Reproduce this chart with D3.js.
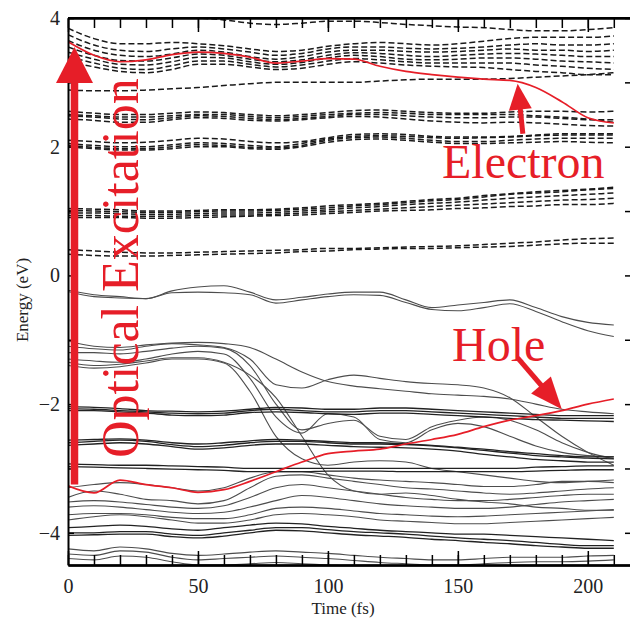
<!DOCTYPE html>
<html>
<head>
<meta charset="utf-8">
<script src="https://cdn.jsdelivr.net/npm/d3@7/dist/d3.min.js"></script>
<style>
body { margin: 0; background: #fff; }
text { font-family: "Liberation Serif", "Times New Roman", serif; }
</style>
</head>
<body>
<div id="container"></div>
<script>
// time samples (fs)
var times = [0,10,20,30,40,50,60,70,80,90,100,110,120,130,140,150,160,170,180,190,200,210];

// unoccupied levels (dashed), eV
var cbTop = [
	[3.84,3.68,3.6,3.6,3.62,3.6,3.57,3.52,3.48,3.5,3.56,3.6,3.62,3.6,3.58,3.6,3.64,3.68,3.7,3.7,3.7,3.72],
	[3.74,3.58,3.5,3.48,3.52,3.55,3.52,3.47,3.42,3.45,3.52,3.55,3.55,3.53,3.52,3.53,3.55,3.58,3.6,3.58,3.58,3.6],
	[3.65,3.5,3.42,3.4,3.44,3.5,3.47,3.4,3.36,3.4,3.47,3.5,3.5,3.48,3.47,3.48,3.5,3.52,3.5,3.5,3.48,3.5],
	[3.55,3.42,3.34,3.33,3.38,3.44,3.42,3.36,3.32,3.35,3.42,3.46,3.45,3.42,3.4,3.42,3.44,3.45,3.44,3.42,3.4,3.4],
	[3.47,3.36,3.28,3.27,3.32,3.39,3.38,3.32,3.28,3.31,3.38,3.42,3.4,3.36,3.35,3.36,3.38,3.38,3.36,3.33,3.32,3.3],
	[3.4,3.3,3.22,3.2,3.26,3.33,3.33,3.28,3.24,3.27,3.33,3.37,3.35,3.32,3.3,3.3,3.3,3.3,3.27,3.25,3.22,3.2],
	[3.33,3.24,3.17,3.15,3.2,3.28,3.28,3.24,3.2,3.22,3.28,3.32,3.3,3.27,3.25,3.24,3.23,3.2,3.17,3.15,3.12,3.12],
	[4.2,4.15,4.1,4.05,4.02,4.0,3.97,3.92,3.9,3.92,3.95,3.95,3.93,3.9,3.88,3.86,3.85,3.82,3.8,3.8,3.82,3.85],
	[2.88,2.87,2.87,2.88,2.9,2.92,2.95,2.98,3.0,3.0,3.0,3.0,3.02,3.04,3.05,3.05,3.05,3.06,3.08,3.1,3.12,3.15]
];
var cbMid = [
	[2.55,2.52,2.5,2.5,2.52,2.54,2.53,2.5,2.48,2.5,2.53,2.56,2.57,2.55,2.53,2.52,2.52,2.54,2.55,2.55,2.54,2.55],
	[2.48,2.46,2.43,2.42,2.45,2.48,2.47,2.44,2.42,2.44,2.47,2.5,2.5,2.48,2.46,2.45,2.45,2.46,2.46,2.44,2.42,2.42],
	[2.43,2.41,2.38,2.38,2.42,2.45,2.44,2.41,2.4,2.42,2.45,2.47,2.46,2.43,2.4,2.38,2.37,2.38,2.37,2.35,2.33,2.32],
	[2.5,2.48,2.46,2.46,2.48,2.5,2.5,2.47,2.45,2.47,2.5,2.52,2.53,2.52,2.5,2.5,2.5,2.5,2.48,2.46,2.43,2.38],
	[2.05,2.02,2.0,2.0,2.03,2.06,2.05,2.02,2.0,2.05,2.12,2.16,2.17,2.16,2.14,2.13,2.14,2.15,2.17,2.18,2.18,2.18],
	[2.02,1.99,1.97,1.97,2.0,2.03,2.02,1.99,1.98,2.02,2.1,2.14,2.15,2.13,2.1,2.08,2.08,2.1,2.12,2.13,2.13,2.13],
	[2.1,2.08,2.06,2.07,2.1,2.13,2.12,2.08,2.06,2.08,2.14,2.19,2.2,2.19,2.16,2.15,2.15,2.16,2.18,2.2,2.2,2.2],
	[2.0,1.97,1.95,1.95,1.97,2.0,2.0,1.97,1.96,2.0,2.07,2.11,2.12,2.1,2.07,2.05,2.05,2.06,2.07,2.08,2.07,2.06]
];
var cbLow = [
	[1.01,1.0,0.99,0.98,0.98,0.99,1.0,1.0,1.01,1.03,1.05,1.08,1.1,1.13,1.16,1.18,1.22,1.26,1.28,1.3,1.33,1.35],
	[0.97,0.97,0.96,0.95,0.95,0.96,0.97,0.97,0.98,1.0,1.02,1.05,1.07,1.1,1.12,1.14,1.17,1.2,1.22,1.24,1.26,1.28],
	[0.93,0.93,0.92,0.92,0.92,0.93,0.94,0.94,0.95,0.97,0.99,1.01,1.03,1.05,1.07,1.09,1.11,1.13,1.15,1.17,1.18,1.2],
	[0.9,0.9,0.9,0.89,0.89,0.9,0.91,0.92,0.93,0.94,0.96,0.98,1.0,1.01,1.02,1.04,1.05,1.07,1.08,1.1,1.1,1.12],
	[1.04,1.03,1.02,1.0,1.0,1.01,1.02,1.02,1.03,1.05,1.08,1.1,1.12,1.15,1.18,1.2,1.24,1.27,1.3,1.32,1.34,1.37],
	[0.4,0.38,0.36,0.35,0.35,0.36,0.37,0.38,0.39,0.4,0.42,0.42,0.43,0.44,0.45,0.46,0.48,0.5,0.52,0.55,0.57,0.58],
	[0.33,0.31,0.3,0.3,0.31,0.32,0.33,0.34,0.35,0.37,0.38,0.4,0.41,0.42,0.42,0.43,0.44,0.45,0.47,0.49,0.5,0.5]
];

// occupied levels (solid, thin grey), eV
var vbThin = [
	[-0.23,-0.3,-0.33,-0.36,-0.24,-0.18,-0.16,-0.26,-0.38,-0.34,-0.29,-0.26,-0.26,-0.38,-0.5,-0.46,-0.42,-0.38,-0.5,-0.64,-0.73,-0.77],
	[-0.25,-0.33,-0.35,-0.36,-0.27,-0.26,-0.27,-0.3,-0.43,-0.38,-0.33,-0.3,-0.31,-0.42,-0.53,-0.55,-0.5,-0.44,-0.56,-0.72,-0.86,-0.95],
	[-1.02,-1.1,-1.12,-1.08,-1.05,-1.04,-1.06,-1.12,-1.3,-1.5,-1.65,-1.72,-1.76,-1.8,-1.84,-1.86,-1.88,-1.92,-2.0,-2.08,-2.12,-2.15],
	[-1.1,-1.14,-1.16,-1.1,-1.06,-1.08,-1.12,-1.3,-1.7,-1.75,-1.62,-1.55,-1.6,-1.65,-1.68,-1.7,-1.75,-1.9,-2.2,-2.5,-2.75,-2.95],
	[-1.2,-1.2,-1.22,-1.18,-1.13,-1.1,-1.13,-1.4,-2.0,-2.4,-2.3,-2.25,-2.5,-2.55,-2.35,-2.25,-2.2,-2.25,-2.4,-2.6,-2.75,-2.85],
	[-1.3,-1.33,-1.35,-1.3,-1.22,-1.18,-1.22,-1.6,-2.2,-2.45,-2.15,-2.2,-2.55,-2.6,-2.4,-2.3,-2.35,-2.5,-2.65,-2.75,-2.8,-2.82],
	[-1.35,-1.4,-1.38,-1.33,-1.28,-1.28,-1.35,-1.55,-1.9,-2.5,-3.1,-3.35,-3.4,-3.38,-3.42,-3.48,-3.52,-3.55,-3.6,-3.62,-3.65,-3.65],
	[-1.4,-1.44,-1.42,-1.36,-1.3,-1.3,-1.36,-1.8,-2.5,-2.85,-2.95,-2.9,-2.88,-2.9,-3.0,-3.05,-3.1,-3.15,-3.2,-3.22,-3.2,-3.18],
	[-3.3,-3.25,-3.22,-3.25,-3.3,-3.35,-3.3,-3.15,-3.05,-3.05,-3.1,-3.15,-3.18,-3.2,-3.22,-3.25,-3.28,-3.28,-3.25,-3.2,-3.2,-3.22],
	[-3.45,-3.35,-3.4,-3.48,-3.5,-3.55,-3.5,-3.3,-3.12,-3.1,-3.15,-3.2,-3.25,-3.3,-3.32,-3.35,-3.38,-3.4,-3.38,-3.35,-3.32,-3.3],
	[-3.52,-3.5,-3.52,-3.56,-3.6,-3.62,-3.58,-3.45,-3.3,-3.25,-3.3,-3.35,-3.4,-3.45,-3.48,-3.5,-3.5,-3.48,-3.45,-3.42,-3.4,-3.4],
	[-3.6,-3.58,-3.6,-3.64,-3.68,-3.7,-3.68,-3.6,-3.5,-3.42,-3.45,-3.5,-3.55,-3.58,-3.6,-3.62,-3.62,-3.6,-3.56,-3.52,-3.5,-3.48],
	[-3.72,-3.7,-3.7,-3.72,-3.76,-3.78,-3.78,-3.72,-3.62,-3.6,-3.62,-3.66,-3.7,-3.72,-3.74,-3.75,-3.74,-3.72,-3.7,-3.68,-3.66,-3.64],
	[-3.8,-3.75,-3.72,-3.75,-3.8,-3.85,-3.85,-3.8,-3.72,-3.7,-3.72,-3.75,-3.8,-3.82,-3.84,-3.86,-3.86,-3.84,-3.82,-3.8,-3.78,-3.76],
	[-4.25,-4.28,-4.22,-4.25,-4.32,-4.35,-4.33,-4.3,-4.28,-4.3,-4.32,-4.35,-4.38,-4.4,-4.42,-4.42,-4.4,-4.38,-4.38,-4.38,-4.36,-4.35],
	[-4.33,-4.35,-4.28,-4.3,-4.38,-4.42,-4.4,-4.38,-4.36,-4.38,-4.4,-4.43,-4.46,-4.48,-4.5,-4.5,-4.48,-4.46,-4.45,-4.45,-4.44,-4.42],
	[-4.4,-4.42,-4.36,-4.38,-4.45,-4.5,-4.5,-4.48,-4.46,-4.48,-4.5,-4.52,-4.55,-4.58,-4.6,-4.6,-4.58,-4.56,-4.55,-4.55,-4.54,-4.52]
];
// occupied levels drawn darker (bundled bands)
var vbBold = [
	[-2.07,-2.08,-2.1,-2.12,-2.14,-2.15,-2.14,-2.1,-2.08,-2.1,-2.12,-2.12,-2.1,-2.1,-2.12,-2.14,-2.16,-2.18,-2.2,-2.22,-2.22,-2.22],
	[-2.1,-2.1,-2.12,-2.14,-2.17,-2.18,-2.17,-2.13,-2.12,-2.13,-2.15,-2.16,-2.14,-2.14,-2.16,-2.18,-2.2,-2.22,-2.24,-2.25,-2.26,-2.27],
	[-2.04,-2.05,-2.07,-2.1,-2.11,-2.12,-2.11,-2.08,-2.05,-2.06,-2.08,-2.08,-2.06,-2.06,-2.08,-2.1,-2.12,-2.14,-2.16,-2.18,-2.18,-2.18],
	[-2.6,-2.58,-2.56,-2.58,-2.63,-2.66,-2.64,-2.6,-2.58,-2.58,-2.6,-2.62,-2.62,-2.63,-2.65,-2.68,-2.72,-2.76,-2.8,-2.82,-2.84,-2.85],
	[-2.64,-2.62,-2.6,-2.62,-2.66,-2.7,-2.68,-2.64,-2.62,-2.62,-2.64,-2.66,-2.67,-2.68,-2.7,-2.73,-2.78,-2.82,-2.86,-2.88,-2.9,-2.9],
	[-2.56,-2.55,-2.54,-2.56,-2.6,-2.62,-2.6,-2.57,-2.55,-2.56,-2.58,-2.6,-2.6,-2.62,-2.64,-2.67,-2.7,-2.74,-2.77,-2.8,-2.82,-2.82],
	[-2.93,-2.94,-2.95,-2.95,-2.96,-2.97,-2.98,-3.0,-3.0,-3.0,-3.0,-3.0,-3.0,-3.0,-3.0,-3.0,-3.0,-3.0,-2.98,-2.97,-2.96,-2.96],
	[-2.97,-2.98,-2.99,-3.0,-3.01,-3.02,-3.03,-3.05,-3.05,-3.05,-3.04,-3.04,-3.04,-3.05,-3.05,-3.05,-3.05,-3.05,-3.04,-3.03,-3.02,-3.02],
	[-4.0,-4.0,-3.98,-3.98,-4.02,-4.04,-4.0,-3.96,-3.92,-3.92,-3.95,-3.98,-4.0,-4.02,-4.05,-4.08,-4.1,-4.12,-4.15,-4.18,-4.2,-4.2],
	[-4.04,-4.03,-4.02,-4.02,-4.06,-4.08,-4.05,-4.0,-3.96,-3.97,-4.0,-4.03,-4.05,-4.07,-4.1,-4.12,-4.15,-4.17,-4.2,-4.22,-4.24,-4.24],
	[-3.92,-3.9,-3.88,-3.9,-3.94,-3.96,-3.92,-3.88,-3.85,-3.86,-3.9,-3.93,-3.96,-3.98,-4.0,-4.02,-4.02,-4.04,-4.06,-4.08,-4.1,-4.12]
];

// tracked electron and hole states (red)
var electron = [3.63,3.42,3.32,3.35,3.43,3.47,3.45,3.39,3.3,3.33,3.37,3.36,3.25,3.17,3.12,3.08,3.05,3.03,2.92,2.7,2.45,2.37];
var hole = [-3.27,-3.38,-3.18,-3.25,-3.3,-3.37,-3.33,-3.2,-3.05,-2.9,-2.77,-2.73,-2.7,-2.62,-2.55,-2.47,-2.35,-2.25,-2.18,-2.1,-2.0,-1.92];

var xTicks = [0,50,100,150,200];
var yTicks = [-4,-2,0,2,4];

var width = 630, height = 625;
var red = "#e61e28";

var x = d3.scaleLinear().domain([0, 217]).range([68, 632]);
var y = d3.scaleLinear().domain([-4.5, 4]).range([565, 18]);

var svg = d3.select("#container")
	.append("svg")
		.attr("width", width)
		.attr("height", height);

svg.append("clipPath").attr("id", "plot")
	.append("rect")
		.attr("x", 68).attr("y", 18)
		.attr("width", 564).attr("height", 547);

var line = d3.line()
	.x(function(d, i){ return x(times[i]); })
	.y(function(d){ return y(d); })
	.curve(d3.curveMonotoneX);

var g = svg.append("g").attr("clip-path", "url(#plot)");

g.selectAll(".cb")
	.data(cbTop.concat(cbMid, cbLow))
	.enter().append("path")
		.attr("class", "cb")
		.attr("d", line)
		.attr("fill", "none")
		.attr("stroke", "#1a1a1a")
		.attr("stroke-width", 1.5)
		.attr("stroke-dasharray", "6,3");

g.selectAll(".vbt")
	.data(vbThin)
	.enter().append("path")
		.attr("class", "vbt")
		.attr("d", line)
		.attr("fill", "none")
		.attr("stroke", "#4d4d4d")
		.attr("stroke-width", 1.1);

g.selectAll(".vbb")
	.data(vbBold)
	.enter().append("path")
		.attr("class", "vbb")
		.attr("d", line)
		.attr("fill", "none")
		.attr("stroke", "#222")
		.attr("stroke-width", 1.3);

g.selectAll(".carrier")
	.data([electron, hole])
	.enter().append("path")
		.attr("class", "carrier")
		.attr("d", line)
		.attr("fill", "none")
		.attr("stroke", red)
		.attr("stroke-width", 1.7);

// axes: ticks point inward
function minor(a){ return a.tickFormat("").tickSizeOuter(0); }
svg.append("g").attr("transform", "translate(0,565)")
	.call(minor(d3.axisBottom(x).tickValues(d3.range(0, 217, 10)).tickSizeInner(-10)));
svg.append("g").attr("transform", "translate(0,18)")
	.call(minor(d3.axisTop(x).tickValues(d3.range(0, 217, 10)).tickSizeInner(-10)));
svg.append("g").attr("transform", "translate(0,565)")
	.call(minor(d3.axisBottom(x).tickValues(xTicks).tickSizeInner(-14)));
svg.append("g").attr("transform", "translate(0,18)")
	.call(minor(d3.axisTop(x).tickValues(xTicks).tickSizeInner(-14)));
svg.append("g").attr("transform", "translate(632,0)")
	.call(minor(d3.axisRight(y).tickValues(d3.range(-4, 5, 1)).tickSizeInner(-7)));

var xAxis = svg.append("g").attr("class", "xaxis").attr("transform", "translate(0,565)")
	.call(d3.axisBottom(x).tickValues(xTicks).tickSizeInner(0).tickSizeOuter(0).tickPadding(14));
var yAxis = svg.append("g").attr("class", "yaxis").attr("transform", "translate(68,0)")
	.call(d3.axisLeft(y).tickValues(d3.range(-4, 5, 1)).tickSizeInner(-6).tickSizeOuter(0).tickPadding(8)
		.tickFormat(function(d){ return yTicks.indexOf(d) >= 0 ? d3.format("d")(d).replace("-", "\u2212") : ""; }));

svg.selectAll(".domain").attr("stroke", "#000").attr("stroke-width", 2);
svg.selectAll(".tick line").attr("stroke", "#000").attr("stroke-width", 1.5);
svg.selectAll(".xaxis text, .yaxis text")
	.attr("font-family", "Liberation Serif")
	.attr("font-size", 20)
	.attr("fill", "#222");
// top border
svg.append("line").attr("x1", 68).attr("x2", 632).attr("y1", 18).attr("y2", 18)
	.attr("stroke", "#000").attr("stroke-width", 2);

svg.append("text")
	.attr("transform", "translate(28,300) rotate(-90)")
	.attr("text-anchor", "middle")
	.attr("font-size", 17)
	.attr("fill", "#222")
	.text("Energy (eV)");
svg.append("text")
	.attr("x", 343).attr("y", 614)
	.attr("text-anchor", "middle")
	.attr("font-size", 17)
	.attr("fill", "#222")
	.text("Time (fs)");

// annotations
function arrow(x1, y1, x2, y2, shaft, headL, headW){
	var dx = x2 - x1, dy = y2 - y1, len = Math.sqrt(dx*dx + dy*dy);
	var ux = dx/len, uy = dy/len, px = -uy, py = ux;
	var bx = x2 - ux*headL, by = y2 - uy*headL;
	svg.append("line")
		.attr("x1", x1).attr("y1", y1).attr("x2", bx + ux*2).attr("y2", by + uy*2)
		.attr("stroke", red).attr("stroke-width", shaft);
	svg.append("path")
		.attr("d", "M" + x2 + "," + y2 +
			"L" + (bx + px*headW/2) + "," + (by + py*headW/2) +
			"L" + (bx - px*headW/2) + "," + (by - py*headW/2) + "Z")
		.attr("fill", red);
}
arrow(x(2.5), y(-3.25), x(2.5), y(3.55), 7.5, 36, 37);
arrow(x(175), y(2.2), x(173), y(2.98), 5, 26, 23);
arrow(x(173), y(-1.28), x(190), y(-2.08), 5, 32, 26);

svg.append("text")
	.attr("transform", "translate(138,458) rotate(-90)")
	.attr("font-size", 52)
	.attr("fill", red)
	.text("Optical Excitation");
svg.append("text")
	.attr("x", 442).attr("y", 178)
	.attr("font-size", 48)
	.attr("fill", red)
	.text("Electron");
svg.append("text")
	.attr("x", 452).attr("y", 361)
	.attr("font-size", 48)
	.attr("fill", red)
	.text("Hole");
</script>
</body>
</html>
